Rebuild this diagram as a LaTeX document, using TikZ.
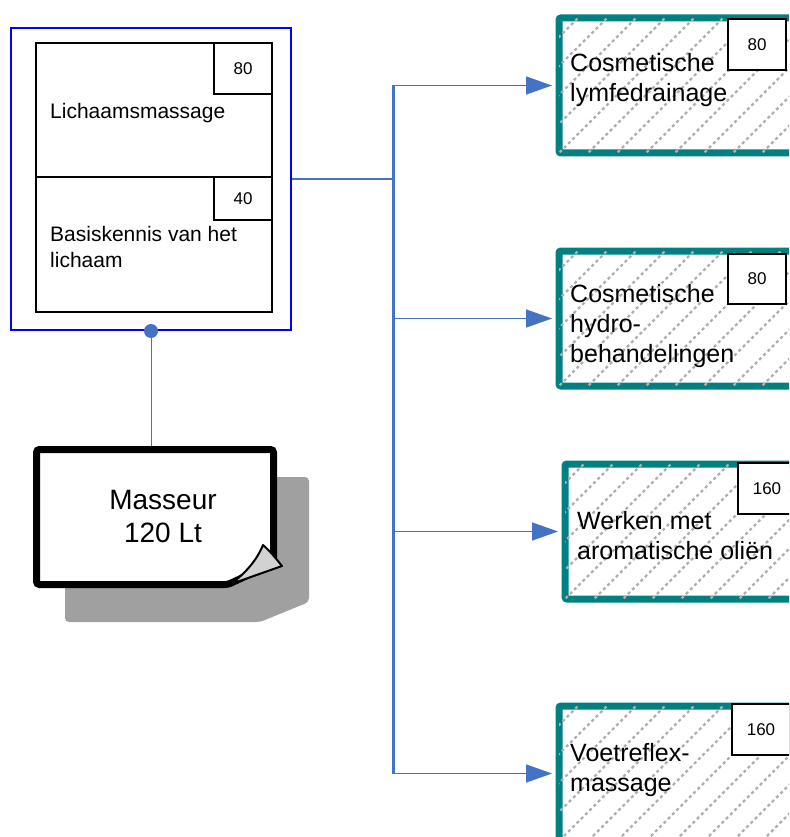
\documentclass[tikz,border=0pt]{standalone}
\usepackage{fontspec}
\setmainfont{Liberation Sans}
\usetikzlibrary{arrows.meta,calc}

\definecolor{linkblue}{HTML}{4472C4}
\definecolor{frameblue}{RGB}{0,0,255}
\definecolor{modteal}{RGB}{0,128,128}
\definecolor{shadowgray}{RGB}{160,160,160}
\definecolor{curlgray}{RGB}{210,210,210}
\definecolor{hatchgray}{RGB}{175,175,175}

\begin{document}
\begin{tikzpicture}[x=1pt,y=-1pt,
  module/.style={draw=modteal,line width=7pt,rounded corners=2pt,fill=white,
    minimum width=260pt,minimum height=135pt,inner sep=0pt,anchor=north west},
  course/.style={draw,line width=2pt,minimum width=236pt,inner sep=0pt},
  hours/.style={draw,line width=2pt,fill=white,inner sep=0pt,minimum width=58pt,
    font=\fontsize{17}{20}\selectfont},
  modtext/.style={anchor=west,align=left,inner sep=0pt,font=\fontsize{25}{30}\selectfont},
  coursetext/.style={align=left,inner sep=0pt,font=\fontsize{21}{26}\selectfont},
  hatch/.style={draw=hatchgray,line width=2.2pt,dash pattern=on 3pt off 3pt},
  link/.style={draw=linkblue,line width=1.5pt},
  flow/.style={link,-{Triangle[length=26pt,width=18pt]},shorten >=3.5pt}]

  \clip (0,0) rectangle (789,837);

  % left block
  \node[draw=frameblue,line width=2pt,minimum width=280pt,minimum height=302pt,
    inner sep=0pt] (group) at (151,179) {};

  \node[course,minimum height=134pt] (lich) at (154,110) {};
  \node[course,minimum height=135pt] (basis) at (154,244.5) {};

  \node[hours,minimum height=51pt,anchor=north east] (lich-h) at (lich.north east) {80};
  \node[hours,minimum height=43pt,anchor=north east] (basis-h) at (basis.north east) {40};

  \node[coursetext,anchor=base west] (lich-t) at (50,119) {Lichaamsmassage};
  \node[coursetext,anchor=west] (basis-t) at (50,247) {Basiskennis van het\\lichaam};

  % profession
  \coordinate (pagetop) at (151,449);
  \draw[linkblue,line width=1pt] (group.south) -- (pagetop);
  \fill[linkblue] (group.south) circle (7pt);

  \fill[shadowgray,rounded corners=4pt] (65,477) -- (309,477) -- (309,602)
    -- (260,622) -- (65,622) -- cycle;
  \draw[line width=7pt,fill=white,rounded corners=3pt] (36.5,449.5) -- (273.5,449.5)
    -- (273.5,563) -- (228,584.5) -- (36.5,584.5) -- cycle;
  \draw[line width=2pt,fill=curlgray,line join=round] (263,545)
    .. controls (272,553) and (277,560) .. (282,566)
    -- (231,584) .. controls (244,574) and (256,562) .. (263,545) -- cycle;

  \node[align=center,font=\fontsize{28}{33}\selectfont] (masseur) at (163,516)
    {Masseur\\120 Lt};

  % modules
  \node[module] (m1) at (555.5,14.5) {};
  \node[module] (m2) at (555.5,247.5) {};
  \node[module] (m3) at (561.5,460.5) {};
  \node[module] (m4) at (555.5,702.5) {};

  \foreach \m in {m1,m2,m3,m4}{
    \begin{scope}
      \clip ($(\m.south west)+(3.5,-3.5)$) rectangle ($(\m.north east)+(-3.5,3.5)$);
      \foreach \d in {-174,-145,...,290}
        \draw[hatch] ($(\m.south west)+(\d,0)$) -- ++(150,-150);
    \end{scope}}

  \node[hours,minimum height=51pt] (m1-h) at (757,44.5) {80};
  \node[hours,minimum height=50pt] (m2-h) at (757,279) {80};
  \node[hours,minimum height=51pt] (m3-h) at (767,488.5) {160};
  \node[hours,minimum height=51pt] (m4-h) at (761,729.5) {160};

  \node[modtext] (m1-t) at (570,80.4) {Cosmetische\\lymfedrainage};
  \node[modtext] (m2-t) at (570,326.4) {Cosmetische\\hydro-\\behandelingen};
  \node[modtext] (m3-t) at (577,536) {Werken met\\aromatische oliën};
  \node[modtext] (m4-t) at (570,770.4) {Voetreflex-\\massage};

  % connectors
  \coordinate (bus) at (393,0);
  \draw[linkblue,line width=3pt] (bus |- m1.west) -- (bus |- m4.west);
  \draw[link] (group.east) -- (group.east -| bus);
  \foreach \m in {m1,m2,m3,m4}
    \draw[flow] (bus |- \m.west) -- (\m.west);
\end{tikzpicture}
\end{document}
